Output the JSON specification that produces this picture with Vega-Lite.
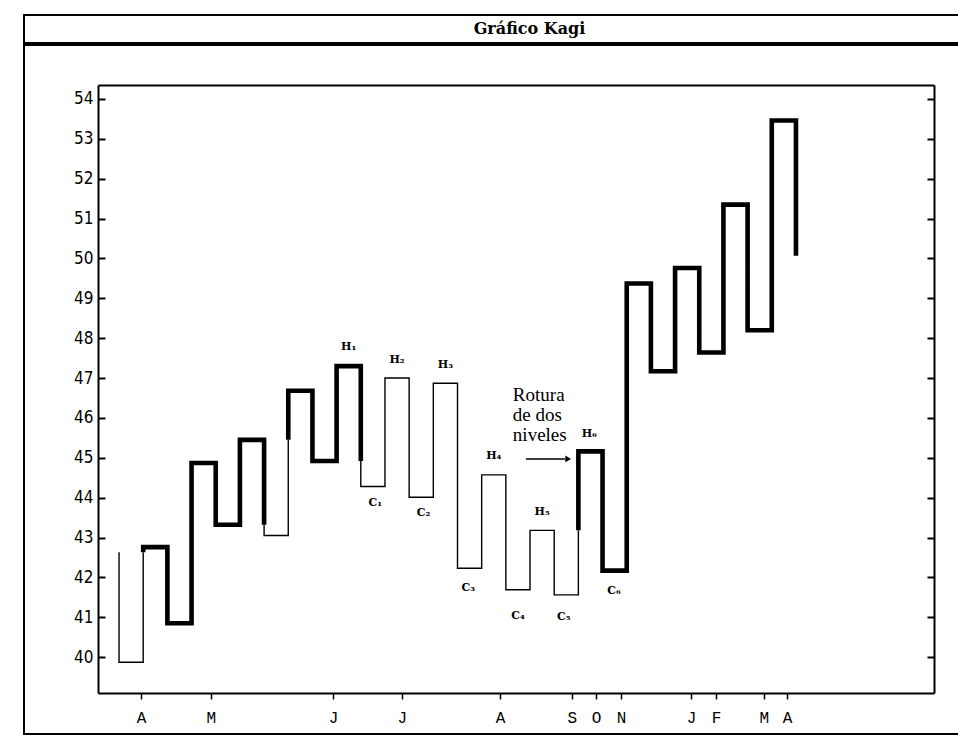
{
  "$schema": "https://vega.github.io/schema/vega-lite/v6.json",
  "padding": {"left": 23, "top": 14, "right": 0, "bottom": 2},
  "background": "white",
  "spacing": 0,
  "config": {
    "view": {"stroke": "black", "strokeWidth": 2},
    "axis": {"grid": false, "title": null, "domainColor": "black", "tickColor": "black", "labelColor": "black"}
  },
  "datasets": {
    "kagi": [
      {"seg": 1, "ord": 1, "col": 0, "price": 42.63, "tipo": "yin"},
      {"seg": 1, "ord": 2, "col": 0, "price": 39.87, "tipo": "yin"},
      {"seg": 1, "ord": 3, "col": 1, "price": 39.87, "tipo": "yin"},
      {"seg": 1, "ord": 4, "col": 1, "price": 42.63, "tipo": "yin"},
      {"seg": 2, "ord": 5, "col": 1, "price": 42.63, "tipo": "yang"},
      {"seg": 2, "ord": 6, "col": 1, "price": 42.76, "tipo": "yang"},
      {"seg": 2, "ord": 7, "col": 2, "price": 42.76, "tipo": "yang"},
      {"seg": 2, "ord": 8, "col": 2, "price": 40.85, "tipo": "yang"},
      {"seg": 2, "ord": 9, "col": 3, "price": 40.85, "tipo": "yang"},
      {"seg": 2, "ord": 10, "col": 3, "price": 44.87, "tipo": "yang"},
      {"seg": 2, "ord": 11, "col": 4, "price": 44.87, "tipo": "yang"},
      {"seg": 2, "ord": 12, "col": 4, "price": 43.32, "tipo": "yang"},
      {"seg": 2, "ord": 13, "col": 5, "price": 43.32, "tipo": "yang"},
      {"seg": 2, "ord": 14, "col": 5, "price": 45.45, "tipo": "yang"},
      {"seg": 2, "ord": 15, "col": 6, "price": 45.45, "tipo": "yang"},
      {"seg": 2, "ord": 16, "col": 6, "price": 43.32, "tipo": "yang"},
      {"seg": 3, "ord": 17, "col": 6, "price": 43.32, "tipo": "yin"},
      {"seg": 3, "ord": 18, "col": 6, "price": 43.05, "tipo": "yin"},
      {"seg": 3, "ord": 19, "col": 7, "price": 43.05, "tipo": "yin"},
      {"seg": 3, "ord": 20, "col": 7, "price": 45.45, "tipo": "yin"},
      {"seg": 4, "ord": 21, "col": 7, "price": 45.45, "tipo": "yang"},
      {"seg": 4, "ord": 22, "col": 7, "price": 46.68, "tipo": "yang"},
      {"seg": 4, "ord": 23, "col": 8, "price": 46.68, "tipo": "yang"},
      {"seg": 4, "ord": 24, "col": 8, "price": 44.92, "tipo": "yang"},
      {"seg": 4, "ord": 25, "col": 9, "price": 44.92, "tipo": "yang"},
      {"seg": 4, "ord": 26, "col": 9, "price": 47.3, "tipo": "yang"},
      {"seg": 4, "ord": 27, "col": 10, "price": 47.3, "tipo": "yang"},
      {"seg": 4, "ord": 28, "col": 10, "price": 44.92, "tipo": "yang"},
      {"seg": 5, "ord": 29, "col": 10, "price": 44.92, "tipo": "yin"},
      {"seg": 5, "ord": 30, "col": 10, "price": 44.28, "tipo": "yin"},
      {"seg": 5, "ord": 31, "col": 11, "price": 44.28, "tipo": "yin"},
      {"seg": 5, "ord": 32, "col": 11, "price": 47.0, "tipo": "yin"},
      {"seg": 5, "ord": 33, "col": 12, "price": 47.0, "tipo": "yin"},
      {"seg": 5, "ord": 34, "col": 12, "price": 44.01, "tipo": "yin"},
      {"seg": 5, "ord": 35, "col": 13, "price": 44.01, "tipo": "yin"},
      {"seg": 5, "ord": 36, "col": 13, "price": 46.87, "tipo": "yin"},
      {"seg": 5, "ord": 37, "col": 14, "price": 46.87, "tipo": "yin"},
      {"seg": 5, "ord": 38, "col": 14, "price": 42.23, "tipo": "yin"},
      {"seg": 5, "ord": 39, "col": 15, "price": 42.23, "tipo": "yin"},
      {"seg": 5, "ord": 40, "col": 15, "price": 44.57, "tipo": "yin"},
      {"seg": 5, "ord": 41, "col": 16, "price": 44.57, "tipo": "yin"},
      {"seg": 5, "ord": 42, "col": 16, "price": 41.69, "tipo": "yin"},
      {"seg": 5, "ord": 43, "col": 17, "price": 41.69, "tipo": "yin"},
      {"seg": 5, "ord": 44, "col": 17, "price": 43.18, "tipo": "yin"},
      {"seg": 5, "ord": 45, "col": 18, "price": 43.18, "tipo": "yin"},
      {"seg": 5, "ord": 46, "col": 18, "price": 41.56, "tipo": "yin"},
      {"seg": 5, "ord": 47, "col": 19, "price": 41.56, "tipo": "yin"},
      {"seg": 5, "ord": 48, "col": 19, "price": 43.18, "tipo": "yin"},
      {"seg": 6, "ord": 49, "col": 19, "price": 43.18, "tipo": "yang"},
      {"seg": 6, "ord": 50, "col": 19, "price": 45.16, "tipo": "yang"},
      {"seg": 6, "ord": 51, "col": 20, "price": 45.16, "tipo": "yang"},
      {"seg": 6, "ord": 52, "col": 20, "price": 42.17, "tipo": "yang"},
      {"seg": 6, "ord": 53, "col": 21, "price": 42.17, "tipo": "yang"},
      {"seg": 6, "ord": 54, "col": 21, "price": 49.37, "tipo": "yang"},
      {"seg": 6, "ord": 55, "col": 22, "price": 49.37, "tipo": "yang"},
      {"seg": 6, "ord": 56, "col": 22, "price": 47.17, "tipo": "yang"},
      {"seg": 6, "ord": 57, "col": 23, "price": 47.17, "tipo": "yang"},
      {"seg": 6, "ord": 58, "col": 23, "price": 49.76, "tipo": "yang"},
      {"seg": 6, "ord": 59, "col": 24, "price": 49.76, "tipo": "yang"},
      {"seg": 6, "ord": 60, "col": 24, "price": 47.64, "tipo": "yang"},
      {"seg": 6, "ord": 61, "col": 25, "price": 47.64, "tipo": "yang"},
      {"seg": 6, "ord": 62, "col": 25, "price": 51.35, "tipo": "yang"},
      {"seg": 6, "ord": 63, "col": 26, "price": 51.35, "tipo": "yang"},
      {"seg": 6, "ord": 64, "col": 26, "price": 48.2, "tipo": "yang"},
      {"seg": 6, "ord": 65, "col": 27, "price": 48.2, "tipo": "yang"},
      {"seg": 6, "ord": 66, "col": 27, "price": 53.46, "tipo": "yang"},
      {"seg": 6, "ord": 67, "col": 28, "price": 53.46, "tipo": "yang"},
      {"seg": 6, "ord": 68, "col": 28, "price": 50.07, "tipo": "yang"}
    ],
    "etiquetas": [
      {"lbl": "H₁", "col": 9.5, "price": 47.78},
      {"lbl": "H₂", "col": 11.5, "price": 47.45},
      {"lbl": "H₃", "col": 13.5, "price": 47.33},
      {"lbl": "H₄", "col": 15.5, "price": 45.04},
      {"lbl": "H₅", "col": 17.5, "price": 43.64},
      {"lbl": "H₆", "col": 19.45, "price": 45.6},
      {"lbl": "C₁", "col": 10.6, "price": 43.86},
      {"lbl": "C₂", "col": 12.6, "price": 43.61},
      {"lbl": "C₃", "col": 14.45, "price": 41.73},
      {"lbl": "C₄", "col": 16.5, "price": 41.03},
      {"lbl": "C₅", "col": 18.4, "price": 41.0},
      {"lbl": "C₆", "col": 20.47, "price": 41.66}
    ],
    "nota": [
      {"txt": "Rotura\nde dos\nniveles", "col": 16.29, "price": 46.58}
    ],
    "flecha": [
      {"x1": 16.83, "x2": 18.45, "xh": 18.58, "price": 44.97}
    ],
    "titulo": [
      {"t": "Gráfico Kagi", "px": 0.5, "py": 0.5}
    ]
  },
  "vconcat": [
    {
      "width": 935,
      "height": 28,
      "view": {"stroke": "black", "strokeWidth": 2},
      "data": {"name": "titulo"},
      "mark": {"type": "text", "font": "DejaVu Serif", "fontWeight": "bold", "fontSize": 16, "dx": 38, "align": "center", "baseline": "middle", "color": "black"},
      "encoding": {
        "x": {"field": "px", "type": "quantitative", "scale": {"domain": [0, 1]}, "axis": null},
        "y": {"field": "py", "type": "quantitative", "scale": {"domain": [0, 1]}, "axis": null},
        "text": {"field": "t", "type": "nominal"}
      }
    },
    {
      "width": 935,
      "height": 689,
      "resolve": {"axis": {"x": "independent", "y": "independent"}},
      "layer": [
        {
          "data": {"name": "kagi"},
          "mark": {"type": "line", "color": "black", "strokeJoin": "miter", "strokeCap": "butt"},
          "encoding": {
            "x": {
              "field": "col", "type": "quantitative",
              "scale": {"domain": [-0.87, 33.71], "range": [74, 910], "nice": false, "zero": false},
              "axis": {
                "orient": "bottom", "offset": -41,
                "values": [0.91, 3.8, 8.85, 11.7, 15.76, 18.73, 19.73, 20.76, 23.66, 24.69, 26.67, 27.63],
                "labelExpr": "['A','M','J','J','A','S','O','N','J','F','M','A'][indexof([0.91, 3.8, 8.85, 11.7, 15.76, 18.73, 19.73, 20.76, 23.66, 24.69, 26.67, 27.63], datum.value)]",
                "labelFont": "Liberation Mono", "labelFontSize": 16, "labelPadding": 10,
                "labelOverlap": false, "labelFlush": false,
                "tickSize": 6, "tickWidth": 1.5, "domainWidth": 2
              }
            },
            "y": {
              "field": "price", "type": "quantitative",
              "scale": {"domain": [39.1, 54.35], "range": [648, 40], "nice": false, "zero": false},
              "axis": {
                "orient": "left", "offset": -74,
                "values": [40, 41, 42, 43, 44, 45, 46, 47, 48, 49, 50, 51, 52, 53, 54],
                "labelFont": "DejaVu Sans Condensed, DejaVu Sans", "labelFontSize": 17, "labelPadding": 12,
                "tickSize": -7, "tickWidth": 2, "domainWidth": 2
              }
            },
            "detail": {"field": "seg", "type": "nominal"},
            "order": {"field": "ord", "type": "quantitative"},
            "strokeWidth": {"field": "tipo", "type": "ordinal", "scale": {"domain": ["yin", "yang"], "range": [1.4, 4.6]}, "legend": null}
          }
        },
        {
          "data": {"name": "etiquetas"},
          "mark": {"type": "text", "font": "DejaVu Serif", "fontWeight": "bold", "fontSize": 11, "color": "black", "align": "center", "baseline": "middle"},
          "encoding": {
            "x": {"field": "col", "type": "quantitative", "axis": {"orient": "top", "offset": -40, "ticks": false, "labels": false, "domainWidth": 2}},
            "y": {"field": "price", "type": "quantitative", "axis": {"orient": "right", "offset": -25, "values": [40, 41, 42, 43, 44, 45, 46, 47, 48, 49, 50, 51, 52, 53, 54], "labels": false, "tickSize": -7, "tickWidth": 2, "domainWidth": 2}},
            "text": {"field": "lbl", "type": "nominal"}
          }
        },
        {
          "data": {"name": "nota"},
          "mark": {"type": "text", "font": "Liberation Serif", "fontSize": 19, "lineHeight": 20, "lineBreak": "\n", "align": "left", "baseline": "middle", "color": "black"},
          "encoding": {
            "x": {"field": "col", "type": "quantitative", "axis": null},
            "y": {"field": "price", "type": "quantitative", "axis": null},
            "text": {"field": "txt", "type": "nominal"}
          }
        },
        {
          "data": {"name": "flecha"},
          "mark": {"type": "rule", "color": "black", "strokeWidth": 1.5},
          "encoding": {
            "x": {"field": "x1", "type": "quantitative", "axis": null},
            "x2": {"field": "x2"},
            "y": {"field": "price", "type": "quantitative", "axis": null}
          }
        },
        {
          "data": {"name": "flecha"},
          "mark": {"type": "point", "shape": "triangle-right", "filled": true, "color": "black", "size": 45, "opacity": 1},
          "encoding": {
            "x": {"field": "xh", "type": "quantitative", "axis": null},
            "y": {"field": "price", "type": "quantitative", "axis": null}
          }
        }
      ]
    }
  ]
}
